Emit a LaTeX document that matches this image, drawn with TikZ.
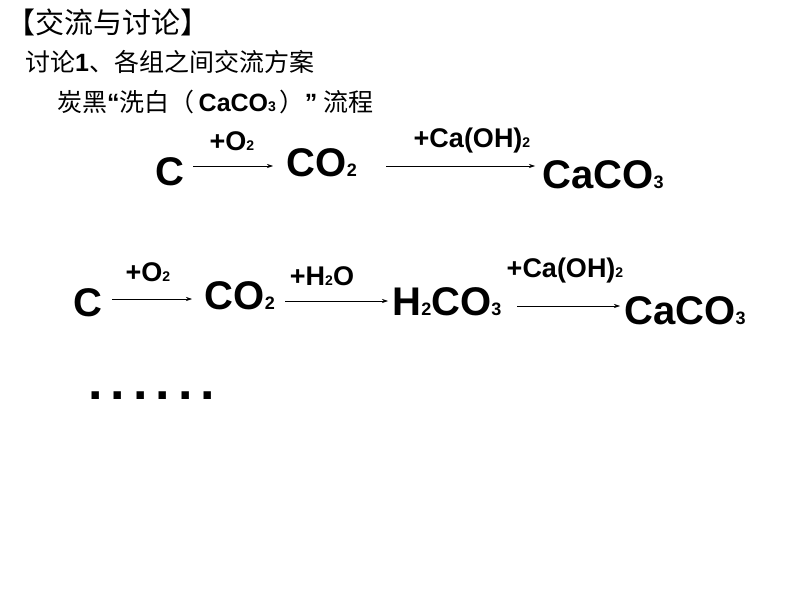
\documentclass[tikz,border=0pt]{standalone}
\usepackage{fontspec}
\setmainfont{Liberation Sans}
\newfontfamily\cjk{Noto Sans CJK SC}
\usetikzlibrary{arrows.meta}
\newcommand{\sbs}[1]{{\fontsize{18}{18}\selectfont #1}}
\newcommand{\lsb}[1]{{\fontsize{14}{14}\selectfont #1}}
\begin{document}
\begin{tikzpicture}[x=1pt,y=-1pt,
  chem/.style={inner sep=0pt,font=\fontsize{40}{40}\selectfont\bfseries},
  lab/.style={inner sep=0pt,font=\fontsize{27}{27}\selectfont\bfseries},
  arr/.style={-{Stealth[length=6pt,width=4pt]},line width=0.6pt}]
\useasboundingbox (0,0) rectangle (794,596);
\node[anchor=west,inner sep=0pt,font=\cjk\fontsize{29}{29}\selectfont] (h1) at (6,22) {【交流与讨论】};
\node[anchor=west,inner sep=0pt,font=\fontsize{25}{25}\selectfont] (h2) at (25,62) {{\cjk 讨论}\textbf{1}{\cjk 、各组之间交流方案}};
\node[anchor=west,inner sep=0pt,font=\fontsize{25}{25}\selectfont] (h3) at (57,102) {{\cjk 炭黑}\textbf{“}{\cjk 洗白（}\hspace{4pt}\textbf{CaCO\lsb{3}}\hspace{4pt}{\cjk ）}\textbf{”}\hspace{6pt}{\cjk 流程}};
% row 1
\node[chem] (c1) at (170,172) {C};
\node[chem] (co1) at (322,163) {CO\sbs{2}};
\node[chem] (ca1) at (603,175) {CaCO\sbs{3}};
\node[lab] (l11) at (232,141) {+O\lsb{2}};
\node[lab] (l12) at (472,141) {+Ca(OH)\lsb{2}};
\coordinate (a1s) at (193,166); \coordinate (a1e) at (273,166);
\coordinate (a2s) at (386,166); \coordinate (a2e) at (535,166);
\draw[arr] (a1s) -- (a1e);
\draw[arr] (a2s) -- (a2e);
% row 2
\node[chem] (c2) at (88,303) {C};
\node[chem] (co2) at (240,296) {CO\sbs{2}};
\node[chem] (h2co3) at (447,302) {H\sbs{2}CO\sbs{3}};
\node[chem] (ca2) at (685,311) {CaCO\sbs{3}};
\node[lab] (l21) at (148,272) {+O\lsb{2}};
\node[lab] (l22) at (322,276) {+H\lsb{2}O};
\node[lab] (l23) at (565,271) {+Ca(OH)\lsb{2}};
\coordinate (b1s) at (112,299); \coordinate (b1e) at (192,299);
\coordinate (b2s) at (285,301); \coordinate (b2e) at (388,301);
\coordinate (b3s) at (517,306); \coordinate (b3e) at (620,306);
\draw[arr] (b1s) -- (b1e);
\draw[arr] (b2s) -- (b2e);
\draw[arr] (b3s) -- (b3e);
\node[anchor=west,inner sep=0pt,font=\fontsize{52}{52}\selectfont\bfseries] (dots) at (88,396) {.\hspace{8pt}.\hspace{8pt}.\hspace{8pt}.\hspace{8pt}.\hspace{8pt}.};
\end{tikzpicture}
\end{document}
